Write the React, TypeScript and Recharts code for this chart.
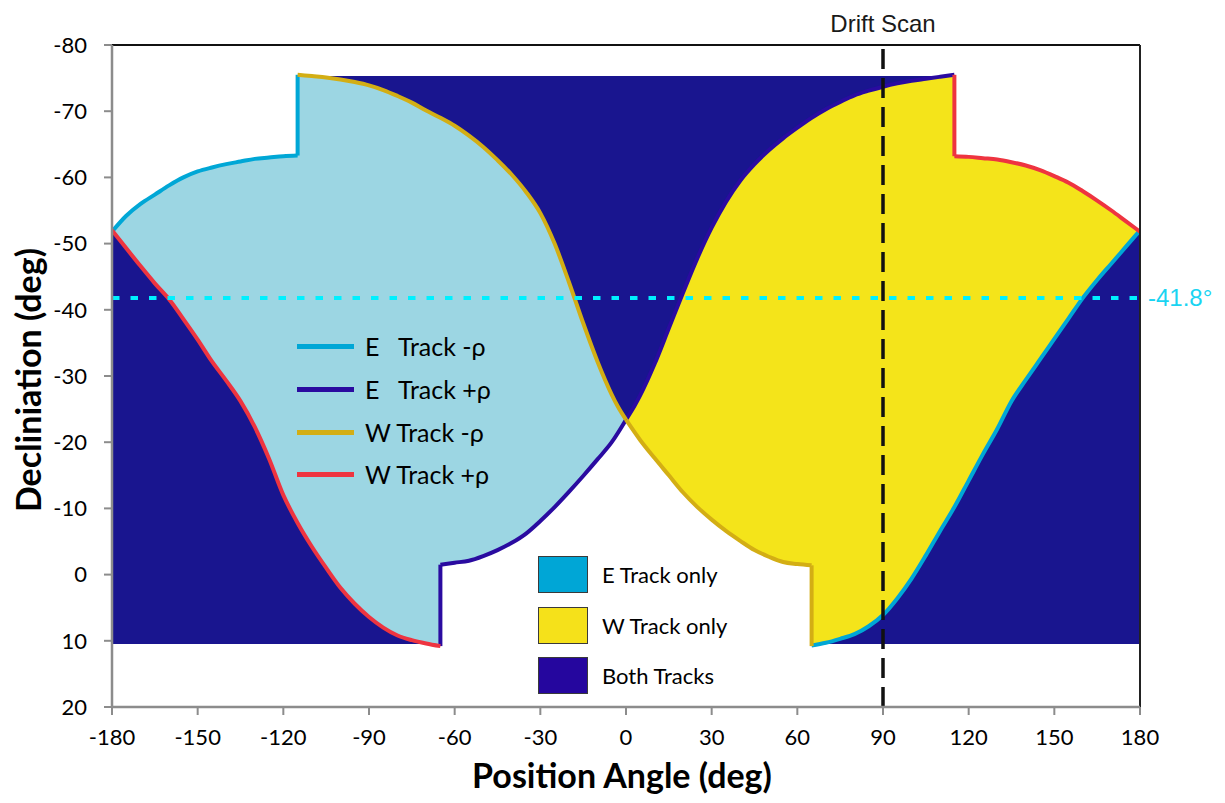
import React from 'react';
import { ComposedChart, Area, Line, XAxis, YAxis, ReferenceLine } from 'recharts';

// ---------- data (position angle deg, declination deg) ----------
const X_TICKS = [-180, -150, -120, -90, -60, -30, 0, 30, 60, 90, 120, 150, 180];
const Y_TICKS = [-80, -70, -60, -50, -40, -30, -20, -10, 0, 10, 20];
const Y_MIN = -80;
const Y_MAX = 20;
const BAND_TOP = -75.3;
const BAND_BOTTOM = 10.5;
const DRIFT_SCAN_PA = 90;
const LAT_DEC = -41.8;

// E Track -rho
const eMinusLeft: [number, number][] = [
  [-180, -51.8], [-175, -54.2], [-170, -56.0], [-165, -57.4], [-160, -58.8], [-155, -60.0],
  [-150, -60.9], [-145, -61.5], [-140, -62.0], [-135, -62.4], [-130, -62.8], [-125, -63.0],
  [-120, -63.2], [-115, -63.3], [-115, -75.5],
];
const eMinusRight: [number, number][] = [
  [65, 10.7], [70, 10.3], [75, 9.7], [80, 9.0], [85, 7.8], [90, 6.1], [95, 3.6], [100, 0.6],
  [105, -2.9], [110, -6.6], [115, -10.2], [120, -14.2], [125, -18.2], [130, -22.0], [135, -26.2],
  [140, -29.4], [145, -32.5], [150, -35.6], [155, -38.7], [160, -41.8], [165, -44.5], [170, -47.0],
  [175, -49.5], [180, -52.0],
];
// E Track +rho
const ePlusLeft: [number, number][] = [
  [-65, 10.8], [-65, -1.5], [-60, -1.8], [-55, -2.1], [-50, -2.8], [-45, -3.7], [-40, -4.8],
  [-35, -6.2], [-30, -8.1], [-25, -10.2], [-20, -12.5], [-15, -14.9], [-10, -17.4], [-5, -20.0],
  [0, -23.4],
];
const ePlusRight: [number, number][] = [
  [0, -23.4], [3, -25.5], [5, -27.1], [10, -31.8], [15, -37.2], [20, -42.6], [25, -47.8],
  [30, -52.4], [35, -56.3], [40, -59.5], [45, -62.0], [50, -64.1], [55, -65.9], [60, -67.5],
  [65, -69.0], [70, -70.3], [75, -71.4], [80, -72.4], [85, -73.1], [90, -73.7], [95, -74.2],
  [100, -74.6], [105, -74.9], [110, -75.2], [115, -75.5],
];
// W Track -rho
const wMinusLeft: [number, number][] = [
  [-115, -75.5], [-110, -75.3], [-105, -75.1], [-100, -74.8], [-95, -74.4], [-90, -73.9],
  [-85, -73.2], [-80, -72.3], [-75, -71.3], [-70, -70.1], [-65, -69.0], [-60, -67.8],
  [-55, -66.3], [-50, -64.6], [-45, -62.6], [-40, -60.4], [-35, -57.8], [-30, -54.6],
  [-25, -50.0], [-20, -44.2], [-15, -38.0], [-10, -32.2], [-5, -27.2], [-3, -25.5], [0, -23.4],
];
const wMinusRight: [number, number][] = [
  [0, -23.4], [5, -20.3], [10, -17.6], [15, -15.0], [20, -12.4], [25, -10.2], [30, -8.3],
  [35, -6.6], [40, -5.1], [45, -3.7], [50, -2.7], [55, -1.9], [60, -1.6], [65, -1.4], [65, 10.8],
];
// W Track +rho
const wPlusLeft: [number, number][] = [
  [-180, -52.0], [-175, -49.3], [-170, -46.6], [-165, -44.0], [-160, -41.6], [-155, -38.6],
  [-150, -35.5], [-145, -32.2], [-140, -29.3], [-135, -26.2], [-130, -22.3], [-125, -17.5],
  [-120, -12.0], [-115, -7.8], [-110, -4.2], [-105, -1.0], [-100, 2.0], [-95, 4.4], [-90, 6.4],
  [-85, 8.0], [-80, 9.2], [-75, 9.9], [-70, 10.4], [-65, 10.8],
];
const wPlusRight: [number, number][] = [
  [115, -75.5], [115, -63.2], [120, -63.1], [125, -62.9], [130, -62.7], [135, -62.3],
  [140, -61.8], [145, -61.1], [150, -60.2], [155, -59.2], [160, -57.9], [165, -56.5],
  [170, -55.0], [175, -53.4], [180, -51.8],
];

// ---------- styling ----------
const NAVY = '#19158F';
const LIGHT_BLUE = '#9CD6E3';
const YELLOW = '#F4E41A';
const C_EMINUS = '#00A7D6';
const C_EPLUS = '#2A0BA0';
const C_WMINUS = '#D3AE14';
const C_WPLUS = '#EE3440';

const pts = (a: [number, number][]) => a.map(([x, y]) => ({ x, y }));
const rng = (a: [number, number][], base: number) => a.map(([x, y]) => ({ x, r: [base, y] }));

const bandData = [{ x: -180, r: [BAND_BOTTOM, BAND_TOP] }, { x: 180, r: [BAND_BOTTOM, BAND_TOP] }];
const lightBlueData = rng([...eMinusLeft, ...wMinusLeft], BAND_BOTTOM);
const yellowData = rng([...ePlusRight, ...wPlusRight], BAND_BOTTOM);
const darkLeftData = rng(wPlusLeft, BAND_BOTTOM);
const darkRightData = rng(eMinusRight, BAND_BOTTOM);
const whiteBottomData = rng([...ePlusLeft, ...wMinusRight], Y_MAX);
const whiteTopLeftData = rng(eMinusLeft, Y_MIN);
const whiteTopRightData = rng(wPlusRight, Y_MIN);

const FONT = 'Lato, "Open Sans", sans-serif';

const lineLegend = [
  { label: 'E   Track -ρ', color: C_EMINUS },
  { label: 'E   Track +ρ', color: C_EPLUS },
  { label: 'W Track -ρ', color: C_WMINUS },
  { label: 'W Track +ρ', color: C_WPLUS },
];
const boxLegend = [
  { label: 'E Track only', color: '#00A6D6' },
  { label: 'W Track only', color: '#F5E11A' },
  { label: 'Both Tracks', color: '#25069E' },
];

const area = (key: string, data: any[], fill: string) => (
  <Area
    key={key}
    data={data}
    dataKey="r"
    type="linear"
    stroke="none"
    fill={fill}
    fillOpacity={1}
    isAnimationActive={false}
    dot={false}
    activeDot={false}
  />
);

const line = (key: string, data: [number, number][], color: string, curve: 'linear' | 'monotone' = 'monotone') => (
  <Line
    key={key}
    data={pts(data)}
    dataKey="y"
    type={curve}
    stroke={color}
    strokeWidth={4}
    dot={false}
    activeDot={false}
    isAnimationActive={false}
  />
);

export default function App() {
  const n = (a: any[]) => a.length;
  return (
    <div style={{ position: 'relative', width: 1209, height: 787, fontFamily: FONT }}>
      <ComposedChart width={1209} height={787} margin={{ top: 37, right: 77, bottom: 28, left: 40 }}>
        <XAxis
          type="number"
          dataKey="x"
          domain={[-180, 180]}
          ticks={X_TICKS}
          allowDataOverflow
          height={60}
          tickSize={8}
          tickMargin={14}
          axisLine={{ stroke: '#8C8C8C', strokeWidth: 2.5 }}
          tickLine={{ stroke: '#8C8C8C', strokeWidth: 2 }}
          tick={{ fill: '#000', fontSize: 22, fontFamily: FONT }}
        />
        <YAxis
          type="number"
          domain={[Y_MIN, Y_MAX]}
          ticks={Y_TICKS}
          reversed
          allowDataOverflow
          width={64}
          tickSize={8}
          tickMargin={17}
          axisLine={{ stroke: '#8C8C8C', strokeWidth: 2.5 }}
          tickLine={{ stroke: '#8C8C8C', strokeWidth: 2 }}
          tick={{ fill: '#000', fontSize: 22, fontFamily: FONT }}
        />
        {area('band', bandData, NAVY)}
        {area('lb', lightBlueData, LIGHT_BLUE)}
        {area('yl', yellowData, YELLOW)}
        {area('dl', darkLeftData, NAVY)}
        {area('dr', darkRightData, NAVY)}
        {area('wb', whiteBottomData, '#FFFFFF')}
        {area('wtl', whiteTopLeftData, '#FFFFFF')}
        {area('wtr', whiteTopRightData, '#FFFFFF')}
        {line('em1', eMinusLeft.slice(0, n(eMinusLeft) - 1), C_EMINUS)}
        {line('em1s', eMinusLeft.slice(n(eMinusLeft) - 2), C_EMINUS, 'linear')}
        {line('em2', eMinusRight, C_EMINUS)}
        {line('ep1s', ePlusLeft.slice(0, 2), C_EPLUS, 'linear')}
        {line('ep1', ePlusLeft.slice(1), C_EPLUS)}
        {line('ep2', ePlusRight, C_EPLUS)}
        {line('wm1', wMinusLeft, C_WMINUS)}
        {line('wm2', wMinusRight.slice(0, n(wMinusRight) - 1), C_WMINUS)}
        {line('wm2s', wMinusRight.slice(n(wMinusRight) - 2), C_WMINUS, 'linear')}
        {line('wp1', wPlusLeft, C_WPLUS)}
        {line('wp2s', wPlusRight.slice(0, 2), C_WPLUS, 'linear')}
        {line('wp2', wPlusRight.slice(1), C_WPLUS)}
        <ReferenceLine y={Y_MIN} stroke="#111" strokeWidth={2} />
        <ReferenceLine x={180} stroke="#222" strokeWidth={2} />
        <ReferenceLine
          y={LAT_DEC}
          stroke="#00F0FF"
          strokeWidth={4}
          strokeDasharray="7.5 11"
          label={{ value: '-41.8°', position: 'right', offset: 8, fill: '#19D4F2', fontSize: 24, fontFamily: '"Liberation Sans", Arial, sans-serif' }}
        />
        <ReferenceLine
          x={DRIFT_SCAN_PA}
          stroke="#111"
          strokeWidth={3.5}
          strokeDasharray="20 9"
          label={{ value: 'Drift Scan', position: 'top', offset: 13, fill: '#1a1a1a', fontSize: 24, fontFamily: '"Liberation Sans", Arial, sans-serif' }}
        />
      </ComposedChart>

      {/* axis titles */}
      <div
        style={{
          position: 'absolute', left: 20, top: 372, transform: 'translate(-50%, -50%) rotate(-90deg)',
          whiteSpace: 'nowrap', fontWeight: 700, fontSize: 34, lineHeight: '34px', color: '#000',
        }}
      >
        Decliniation (deg)
      </div>
      <div
        style={{
          position: 'absolute', left: 614, top: 750, transform: 'translateX(-50%)',
          whiteSpace: 'nowrap', fontWeight: 700, fontSize: 34, lineHeight: '34px', color: '#000',
        }}
      >
        Position Angle (deg)
      </div>

      {/* line legend */}
      {lineLegend.map((it, i) => (
        <div
          key={it.label}
          style={{
            position: 'absolute', left: 289, top: 326 + i * 42.8, height: 25, display: 'flex',
            alignItems: 'center', whiteSpace: 'pre', fontSize: 25, lineHeight: '25px', color: '#000',
          }}
        >
          <div style={{ width: 57, height: 5, background: it.color, marginRight: 11 }} />
          <span>{it.label}</span>
        </div>
      ))}

      {/* region legend */}
      {boxLegend.map((it, i) => (
        <div
          key={it.label}
          style={{
            position: 'absolute', left: 530, top: 548 + i * 50.5, height: 37, display: 'flex',
            alignItems: 'center', whiteSpace: 'nowrap', fontSize: 22, color: '#000',
          }}
        >
          <div
            style={{
              width: 48, height: 35, background: it.color, border: '1.5px solid #3a3a3a', marginRight: 14,
            }}
          />
          <span>{it.label}</span>
        </div>
      ))}
    </div>
  );
}
